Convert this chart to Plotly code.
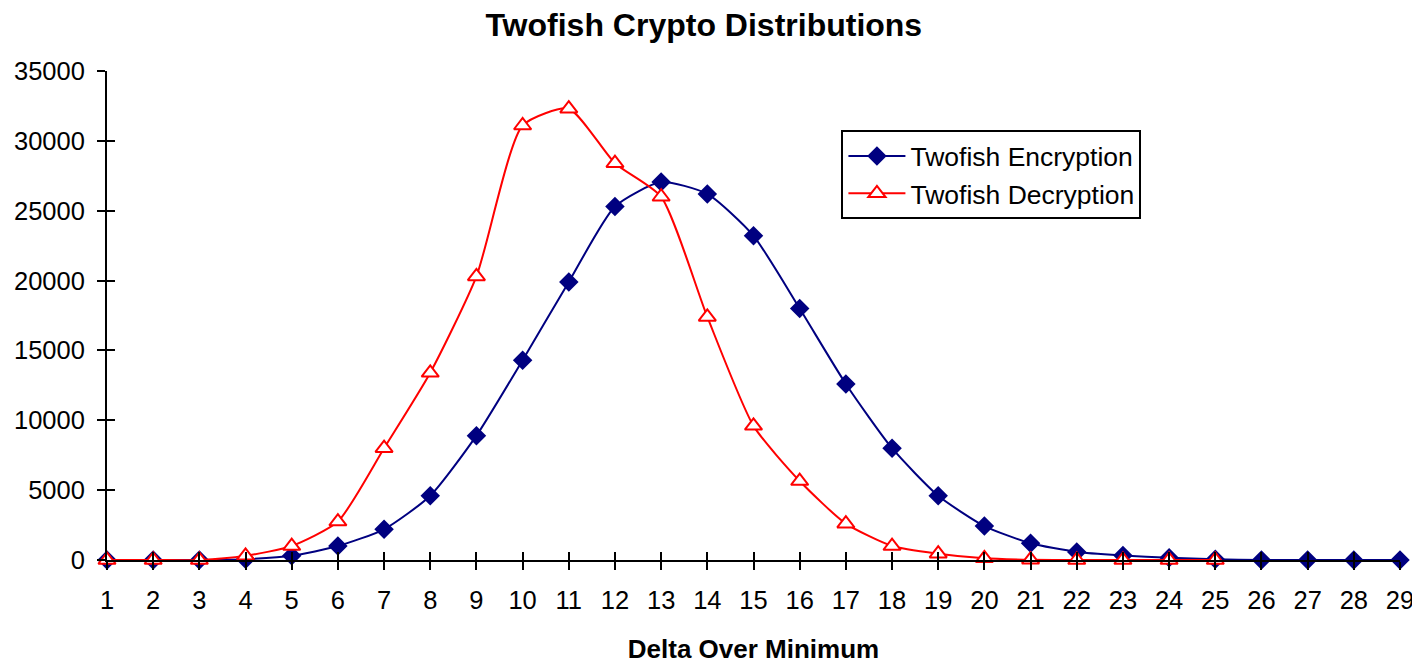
import plotly.graph_objects as go

# Datos
delta = list(range(1, 30))
encryption = [0, 0, 0, 60, 300, 1000, 2200, 4600, 8900, 14300, 19900, 25300, 27050,
              26200, 23200, 18000, 12600, 8000, 4600, 2430, 1200, 580, 330, 160, 50,
              0, 0, 0, 0]
decryption = [0, 0, 0, 300, 1000, 2750, 8000, 13400, 20300, 31100, 32300, 28400, 26000,
              17400, 9600, 5650, 2600, 1000, 450, 120, 20, 0, 0, 0, 0]

NAVY = "#000080"
RED = "#ff0000"
FONT = "Liberation Sans, Arial, sans-serif"

fig = go.Figure()

fig.add_trace(go.Scatter(
    x=delta, y=encryption, name="Twofish Encryption",
    mode="lines+markers", line=dict(color=NAVY, width=2, shape="spline", smoothing=0.6),
    marker=dict(symbol="diamond", size=15, color=NAVY),
    cliponaxis=False,
))
fig.add_trace(go.Scatter(
    x=delta[:len(decryption)], y=decryption, name="Twofish Decryption",
    mode="lines+markers", line=dict(color=RED, width=2, shape="spline", smoothing=0.6),
    marker=dict(symbol="triangle-up", size=15, color="white", line=dict(color=RED, width=2)),
    cliponaxis=False,
))

# ejes secundarios solo para que las marcas crucen el eje
fig.add_trace(go.Scatter(x=[None], y=[None], xaxis="x2", yaxis="y2", showlegend=False))

axis_common = dict(showgrid=False, zeroline=False, showline=True, linecolor="black",
                   linewidth=2, tickcolor="black", tickwidth=2, ticklen=8,
                   automargin=False)
tick_font = dict(family=FONT, size=25.5, color="black")

fig.update_layout(
    width=1420, height=662,
    paper_bgcolor="white", plot_bgcolor="white",
    # el body del html añade 8px de margen
    margin=dict(l=99, r=28, t=63, b=110),
    title=dict(text="<b>Twofish Crypto Distributions</b>", x=0.490, xanchor="center",
               y=0.975, yanchor="middle",
               font=dict(family=FONT, size=32, color="black")),
    xaxis=dict(range=[1, 29], tickvals=delta, ticks="outside", tickfont=tick_font,
               ticklabelstandoff=8,
               title=dict(text="<b>Delta Over Minimum</b>", standoff=27,
                          font=dict(family=FONT, size=26, color="black")),
               **axis_common),
    yaxis=dict(range=[0, 35000], dtick=5000, ticks="outside", tickformat="d",
               tickfont=tick_font, ticklabelstandoff=7, **axis_common),
    xaxis2=dict(range=[1, 29], tickvals=delta, ticks="inside", overlaying="x",
                showticklabels=False, **axis_common),
    yaxis2=dict(range=[0, 35000], dtick=5000, ticks="inside", overlaying="y",
                showticklabels=False, **axis_common),
    legend=dict(x=0.568, y=0.879, xanchor="left", yanchor="top",
                bgcolor="white", bordercolor="black", borderwidth=2,
                font=dict(family=FONT, size=26.5, color="black"),
                tracegroupgap=0, itemwidth=57),
    showlegend=True,
)

fig.write_html("out.html")
